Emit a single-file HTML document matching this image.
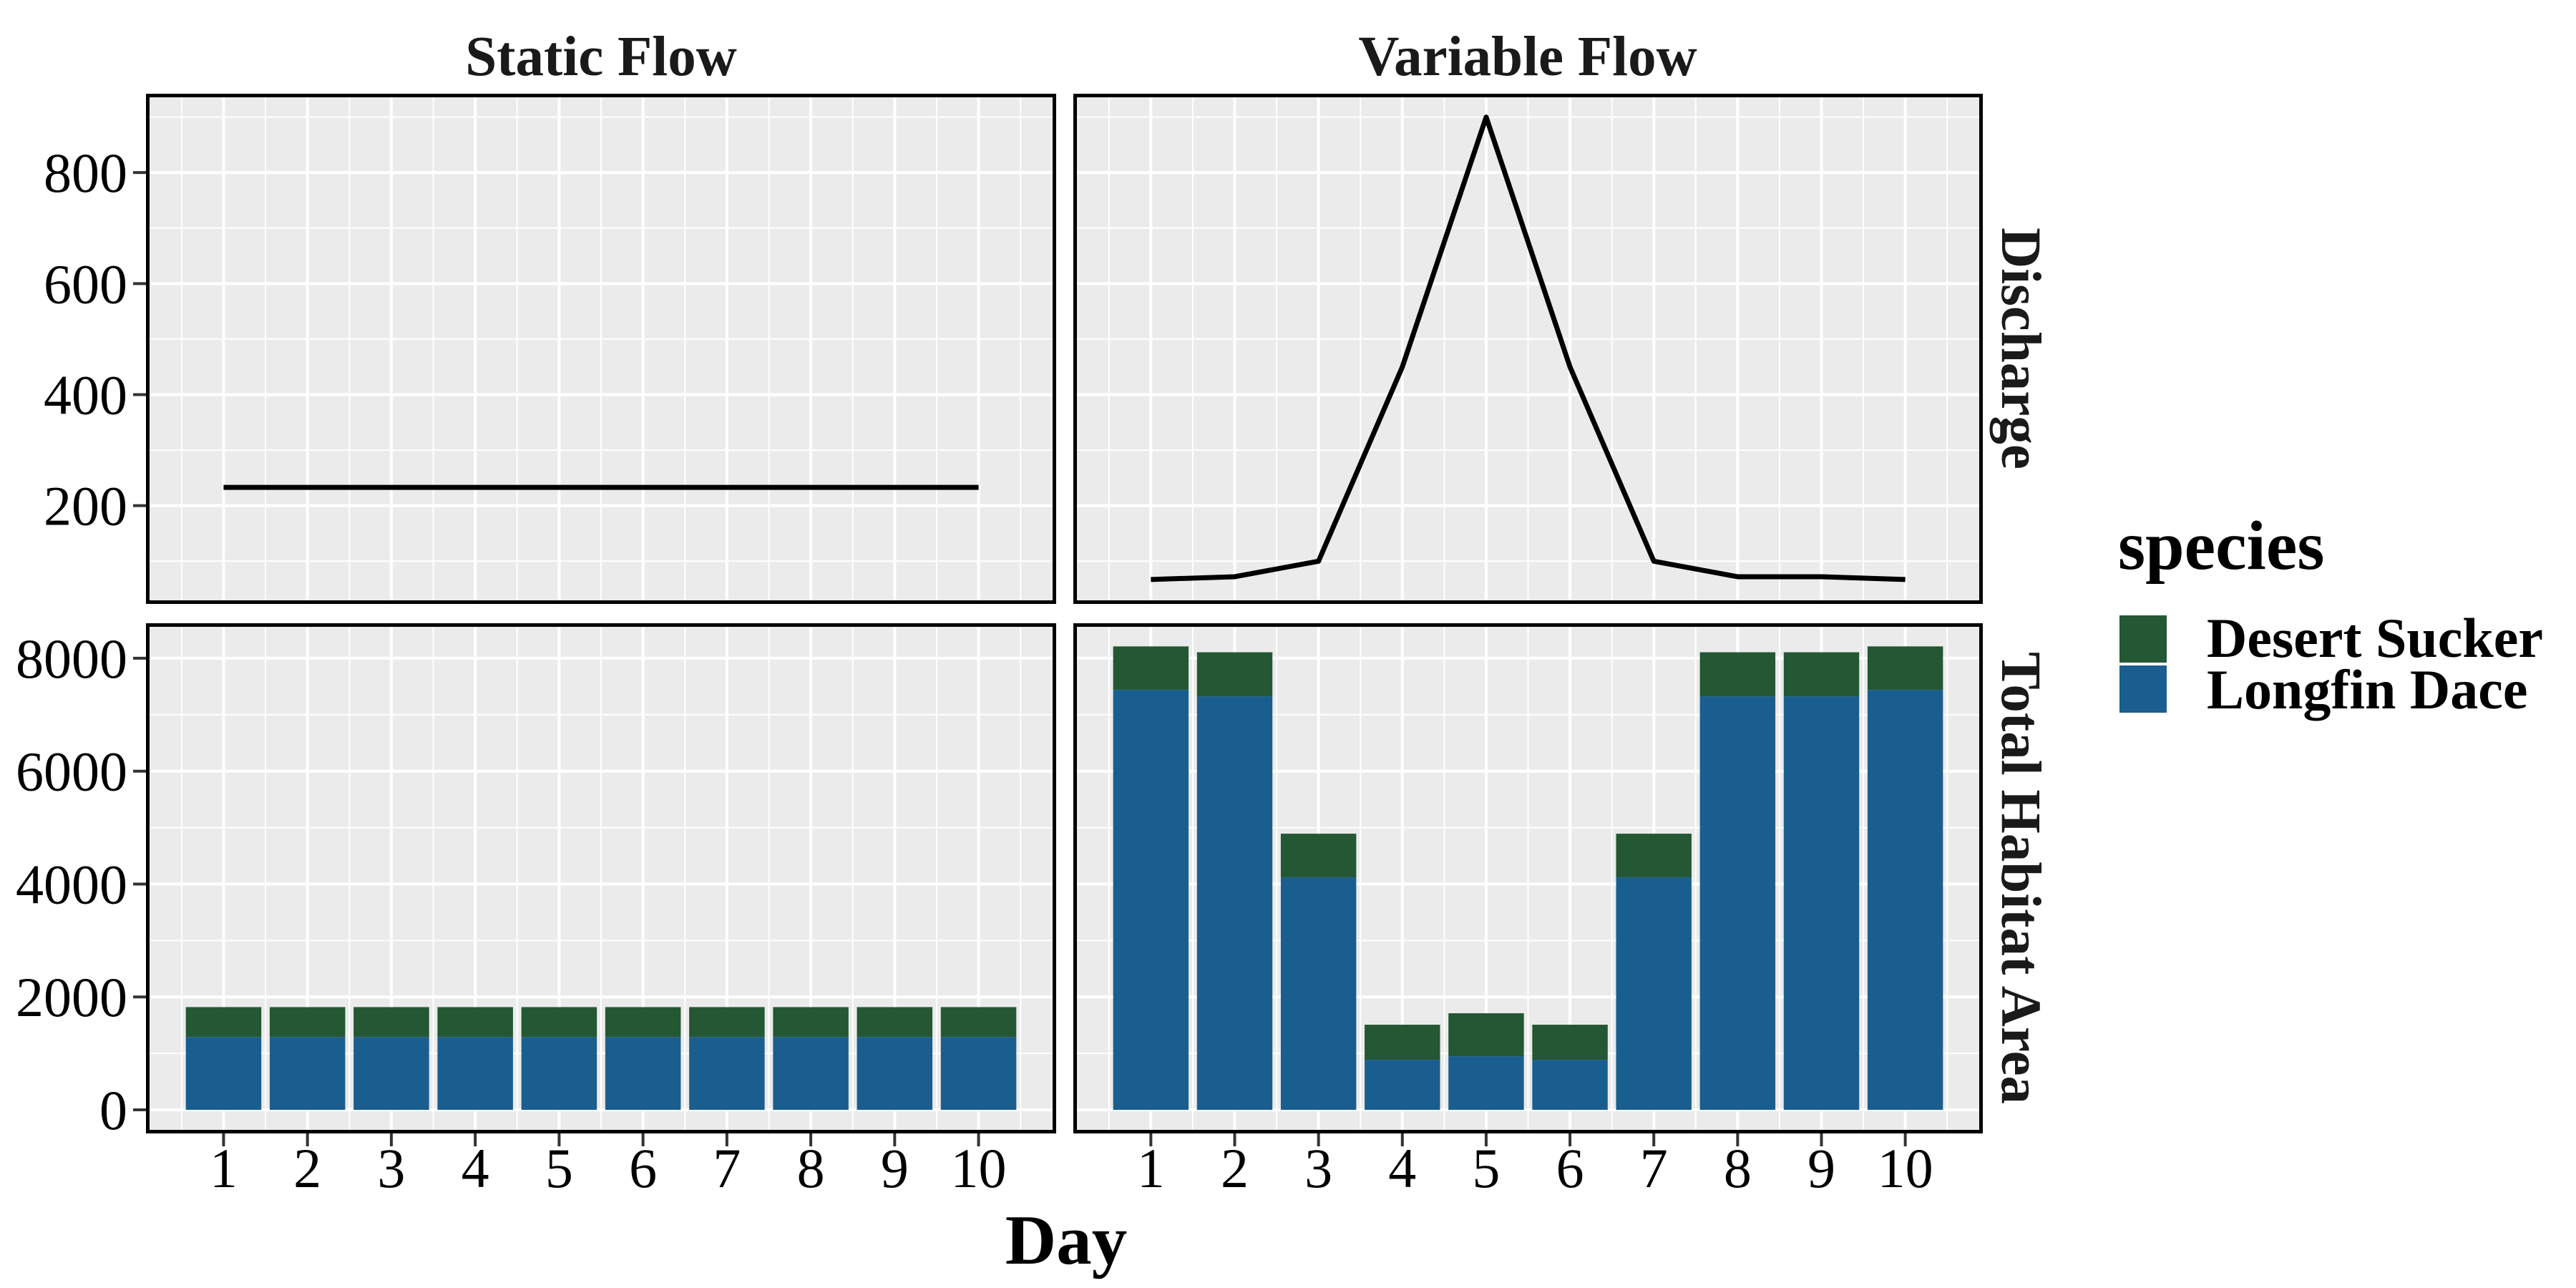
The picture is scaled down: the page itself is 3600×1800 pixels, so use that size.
<!DOCTYPE html>
<html><head><meta charset="utf-8"><style>
html,body{margin:0;padding:0;background:#fff}
svg{display:block}
text{font-family:"Liberation Serif",serif}
</style></head><body>
<svg id="chart" width="3600" height="1800" viewBox="0 0 3600 1800" xmlns="http://www.w3.org/2000/svg">
<g id="panels"></g>
<text x="840" y="105" font-size="79" font-weight="bold" text-anchor="middle" fill="#1a1a1a">Static Flow</text>
<text x="2135" y="105" font-size="79" font-weight="bold" text-anchor="middle" fill="#1a1a1a">Variable Flow</text>
<text transform="translate(2798,487) rotate(90)" font-size="79" font-weight="bold" text-anchor="middle" fill="#1a1a1a">Discharge</text>
<text transform="translate(2798,1227) rotate(90)" font-size="79" font-weight="bold" text-anchor="middle" fill="#1a1a1a">Total Habitat Area</text>
<text x="1490" y="1766" font-size="99" font-weight="bold" text-anchor="middle">Day</text>
<g>
<text x="2960" y="795" font-size="98" font-weight="bold">species</text>
<rect x="2962" y="860" width="66" height="66" fill="#245733"/>
<rect x="2962" y="930" width="66" height="66" fill="#1a5e8f"/>
<text x="3084" y="918" font-size="78" font-weight="bold">Desert Sucker</text>
<text x="3084" y="990" font-size="78" font-weight="bold">Longfin Dace</text>
</g>
</svg>
<script>
const days = [1,2,3,4,5,6,7,8,9,10];
const staticDischarge = [233,233,233,233,233,233,233,233,233,233];
const variableDischarge = [67,72,100,450,900,450,100,72,72,67];
const staticLongfin = [1290,1290,1290,1290,1290,1290,1290,1290,1290,1290];
const staticSucker = [530,530,530,530,530,530,530,530,530,530];
const variableLongfin = [7440,7326,4119,887,950,887,4119,7326,7326,7440];
const variableSucker = [770,780,773,621,761,621,773,780,780,770];
const dischargeTicks = [200,400,600,800];
const areaTicks = [0,2000,4000,6000,8000];

const NS = 'http://www.w3.org/2000/svg';
const root = document.getElementById('panels');
function mk(tag, attrs, parent){const e=document.createElementNS(NS,tag);for(const k in attrs)e.setAttribute(k,attrs[k]);(parent||root).appendChild(e);return e;}

const cols = [{x0:204,x1:1476},{x0:1500,x1:2771}];
const rows = [{y0:131,y1:844,min:23,max:942,minor:[100,300,500,700,900],ticks:dischargeTicks},
              {y0:871,y1:1584,min:-418,max:8620,minor:[1000,3000,5000,7000],ticks:areaTicks}];
const XMIN=0.075, XMAX=10.925;

function panel(r,c,name){
  const R=rows[r],C=cols[c];
  const sx=v=>C.x0+(v-XMIN)/(XMAX-XMIN)*(C.x1-C.x0);
  const sy=v=>R.y1-(v-R.min)/(R.max-R.min)*(R.y1-R.y0);
  const g=mk('g',{});
  
  
  const bg=mk('rect',{x:C.x0,y:R.y0,width:C.x1-C.x0,height:R.y1-R.y0,fill:'#ebebeb'},g);
  
  
  R.minor.forEach(v=>{const l=mk('line',{x1:C.x0,x2:C.x1,y1:sy(v),y2:sy(v),stroke:'#fff','stroke-width':2},g);
    
    });
  for(let d=0.5; d<=10.5; d+=1){const l=mk('line',{x1:sx(d),x2:sx(d),y1:R.y0,y2:R.y1,stroke:'#fff','stroke-width':2},g);
    
    }
  R.ticks.forEach(v=>{const l=mk('line',{x1:C.x0,x2:C.x1,y1:sy(v),y2:sy(v),stroke:'#fff','stroke-width':4},g);
    
    });
  days.forEach(d=>{const l=mk('line',{x1:sx(d),x2:sx(d),y1:R.y0,y2:R.y1,stroke:'#fff','stroke-width':4},g);
    
    });
  return {g,sx,sy,R,C};
}
function border(p,name){
  const b=mk('rect',{x:p.C.x0+2.5,y:p.R.y0+2.5,width:p.C.x1-p.C.x0-5,height:p.R.y1-p.R.y0-5,fill:'none',stroke:'#000','stroke-width':5},p.g);
  
  
}
function line(p,vals,name){
  const pts=days.map((d,i)=>p.sx(d)+','+p.sy(vals[i])).join(' ');
  const l=mk('polyline',{points:pts,fill:'none',stroke:'#000','stroke-width':7,'stroke-linejoin':'round'},p.g);
  
  
}
function bars(p,lo,hi,prefix){
  days.forEach((d,i)=>{
    const xl=p.sx(d-0.45), w=p.sx(d+0.45)-xl;
    const b1=mk('rect',{x:xl,y:p.sy(lo[i]),width:w,height:p.sy(0)-p.sy(lo[i]),fill:'#1a5e8f'},p.g);
    
    
    const b2=mk('rect',{x:xl,y:p.sy(lo[i]+hi[i]),width:w,height:p.sy(lo[i])-p.sy(lo[i]+hi[i]),fill:'#245733'},p.g);
    
    
  });
}
function yaxis(p,name){
  p.R.ticks.forEach(v=>{
    const t=mk('line',{x1:p.C.x0-18,x2:p.C.x0,y1:p.sy(v),y2:p.sy(v),stroke:'#333','stroke-width':4});
    
    
    const tx=mk('text',{x:p.C.x0-26,y:p.sy(v)+27,'font-size':78,'text-anchor':'end',fill:'#000'});
    tx.textContent=v;
    
    
  });
}
function xaxis(p,name){
  days.forEach(d=>{
    const t=mk('line',{x1:p.sx(d),x2:p.sx(d),y1:p.R.y1,y2:p.R.y1+18,stroke:'#333','stroke-width':4});
    
    
    const tx=mk('text',{x:p.sx(d),y:1659,'font-size':78,'text-anchor':'middle',fill:'#000'});
    tx.textContent=d;
    
    
  });
}
const p00=panel(0,0,'panel-static-discharge'); line(p00,staticDischarge,'static-discharge-line'); border(p00,'panel-border');
const p01=panel(0,1,'panel-variable-discharge'); line(p01,variableDischarge,'variable-discharge-line'); border(p01,'panel-border');
const p10=panel(1,0,'panel-static-habitat'); bars(p10,staticLongfin,staticSucker,'static-bar'); border(p10,'panel-border');
const p11=panel(1,1,'panel-variable-habitat'); bars(p11,variableLongfin,variableSucker,'variable-bar'); border(p11,'panel-border');
yaxis(p00,'discharge-y-axis'); yaxis(p10,'habitat-y-axis');
xaxis(p10,'static-x-axis'); xaxis(p11,'variable-x-axis');
</script>
</body></html>
